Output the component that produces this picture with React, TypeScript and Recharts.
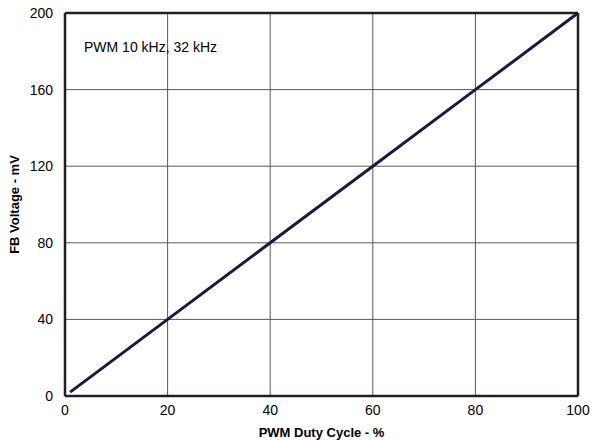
import React from 'react';
import { LineChart, Line, XAxis, YAxis, CartesianGrid, ReferenceLine, Label } from 'recharts';

const dutyCycle = [1, 20, 40, 60, 80, 100];
const fbVoltage = [2, 40, 80, 120, 160, 200];
const xTicks = [0, 20, 40, 60, 80, 100];
const yTicks = [0, 40, 80, 120, 160, 200];

const data = dutyCycle.map((d, i) => ({ duty: d, fb: fbVoltage[i] }));

const font = '"Liberation Sans", Arial, sans-serif';
const frame = '#231f20';

const App: React.FC = () => {
  return (
    <div style={{ position: 'absolute', left: 0, top: 0, fontFamily: font }}>
      <LineChart width={601} height={441} data={data} margin={{ top: 13, right: 23, left: 0, bottom: 0 }}>
        <CartesianGrid stroke="#58595b" strokeWidth={1} />
        <XAxis
          dataKey="duty"
          type="number"
          domain={[0, 100]}
          ticks={xTicks}
          tickLine={false}
          axisLine={{ stroke: frame, strokeWidth: 2.5 }}
          tick={{ fill: '#000', fontSize: 14, fontFamily: font }}
          tickMargin={3}
          height={45}
        >
          <Label value="PWM Duty Cycle - %" position="insideBottom" offset={4} style={{ fontWeight: 'bold', fontSize: 13, fill: '#000', fontFamily: font }} />
        </XAxis>
        <YAxis
          type="number"
          domain={[0, 200]}
          ticks={yTicks}
          tickLine={false}
          axisLine={{ stroke: frame, strokeWidth: 2.5 }}
          tick={{ fill: '#000', fontSize: 14, fontFamily: font }}
          tickMargin={6}
          width={65}
        >
          <Label value="FB Voltage - mV" angle={-90} position="insideLeft" offset={14} style={{ fontWeight: 'bold', fontSize: 13, fill: '#000', fontFamily: font, textAnchor: 'middle' }} />
        </YAxis>
        <ReferenceLine x={100} stroke={frame} strokeWidth={2.5} />
        <ReferenceLine y={200} stroke={frame} strokeWidth={2.5} />
        <Line
          type="linear"
          dataKey="fb"
          stroke="#1c1a3c"
          strokeWidth={3}
          dot={false}
          isAnimationActive={false}
        />
        <text x={84} y={52} fontSize={14} fontFamily={font} fill="#000">PWM 10 kHz, 32 kHz</text>
      </LineChart>
    </div>
  );
};

export default App;
